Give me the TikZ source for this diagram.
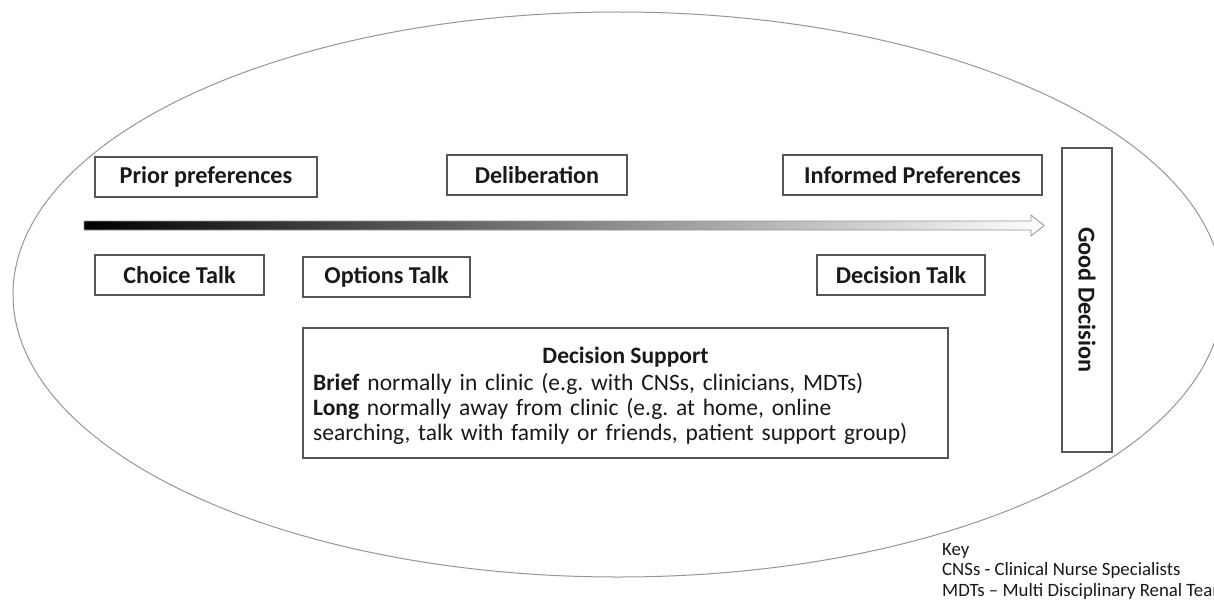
\documentclass[tikz,border=0pt]{standalone}
\usepackage{fontspec}
\setmainfont{Carlito}
\usetikzlibrary{shadings}
\definecolor{ellgray}{RGB}{150,150,150}
\definecolor{boxgray}{RGB}{85,85,85}
\definecolor{txt}{RGB}{25,25,25}
\tikzset{
  stagebox/.style={draw=boxgray, line width=1.2pt, inner sep=0pt, text=txt,
    font=\fontsize{24.2}{28}\selectfont\bfseries, align=center},
  keytext/.style={text=txt, font=\fontsize{18.8}{20.5}\selectfont, align=left, inner sep=0pt, anchor=north west}
}
\begin{document}
\frenchspacing
\begin{tikzpicture}[x=1pt,y=-1pt]
\useasboundingbox (0,0) rectangle (1214,599);
\fill[white] (0,0) rectangle (1214,599);
% outer ellipse
\draw[ellgray, line width=1pt] (618,294.5) ellipse [x radius=605, y radius=282.5];
% gradient arrow
\path[left color=black, right color=white, draw=ellgray, line width=0.8pt]
  (84,221) -- (1031,221) -- (1031,215) -- (1044,225.5) -- (1031,236) -- (1031,230) -- (84,230) -- cycle;
% stage boxes
\node[stagebox, minimum width=222pt, minimum height=40pt] (prior) at (206,177) {Prior preferences};
\node[stagebox, minimum width=180pt, minimum height=40pt] (delib) at (537,175) {Deliberation};
\node[stagebox, minimum width=259pt, minimum height=40pt] (informed) at (912.5,175) {Informed Preferences};
\node[stagebox, minimum width=169pt, minimum height=40pt] (choice) at (179.5,275) {Choice Talk};
\node[stagebox, minimum width=167pt, minimum height=40pt] (options) at (386.5,277) {Options Talk};
\node[stagebox, minimum width=168pt, minimum height=40pt] (dtalk) at (901,275) {Decision Talk};
% decision support
\node[draw=boxgray, line width=1.2pt, minimum width=645pt, minimum height=130pt, inner sep=0pt] (support) at (625.5,393) {};
\node[text=txt, font=\fontsize{23.5}{25}\selectfont\bfseries, inner sep=0pt] (supporttitle) at (625.5,357) {Decision Support};
\node[text=txt, font=\fontsize{23.5}{25}\selectfont, align=left, inner sep=0pt, anchor=north west, text width=630pt] (supportbody) at (313,373)
  {\textbf{Brief} normally in clinic (e.g. with CNSs, clinicians, MDTs)\\
   \textbf{Long} normally away from clinic (e.g. at home, online\\
   searching, talk with family or friends, patient support group)};
% good decision
\node[draw=boxgray, line width=1.2pt, minimum width=50pt, minimum height=304pt, inner sep=0pt] (good) at (1087,300) {};
\node[text=txt, font=\fontsize{24.2}{28}\selectfont\bfseries, rotate=-90, inner sep=0pt] (goodtext) at (1087,300) {Good Decision};
% key (cut off at the right edge, as in the reference)
\node[keytext] (key) at (942,543) {Key\\CNSs - Clinical Nurse Specialists\\MDTs – Multi Disciplinary Renal Team};
\end{tikzpicture}
\end{document}
